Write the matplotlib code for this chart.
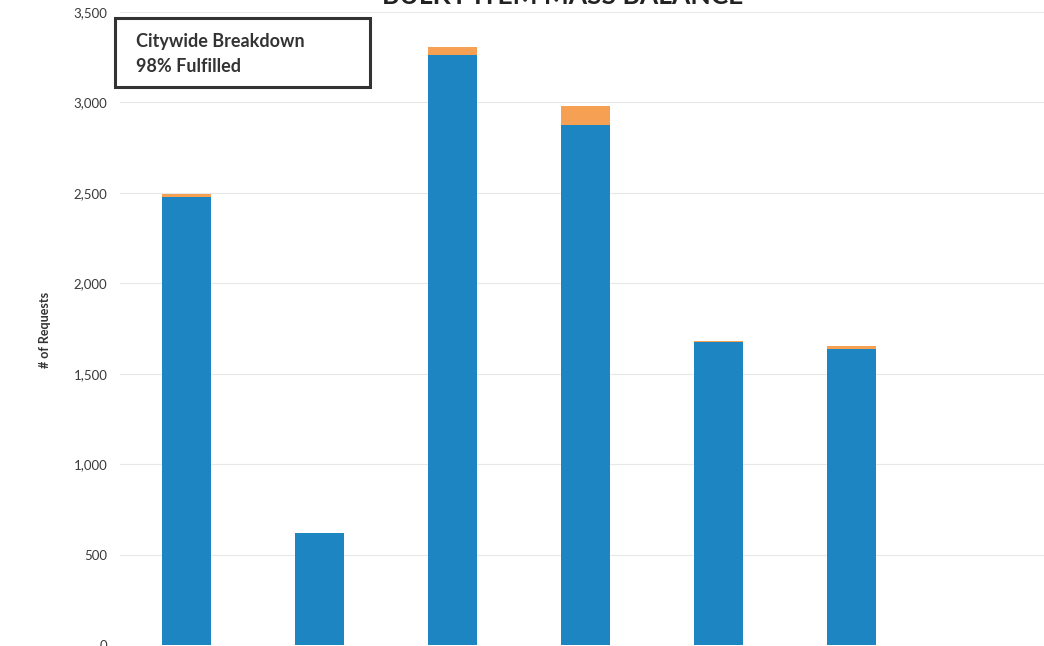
import matplotlib
matplotlib.use('Agg')
import matplotlib.pyplot as plt
from matplotlib.patches import Rectangle

plt.rcParams['font.family'] = ['Lato', 'DejaVu Sans']

# values (category names are cut off in the scan)
categories = ['A', 'B', 'C', 'D', 'E', 'F']
fulfilled = [2475, 619, 3260, 2873, 1674, 1635]
unfulfilled = [20, 3, 45, 105, 5, 20]
yticks = [0, 500, 1000, 1500, 2000, 2500, 3000, 3500]

blue = '#1c85c2'
orange = '#f5a052'

fig = plt.figure(figsize=(10.44, 6.46), dpi=100)
ax = fig.add_axes([120/1044, 1/646, 924/1044, 633/646])

x = range(len(categories))
ax.bar(x, fulfilled, width=0.37, color=blue, zorder=3)
ax.bar(x, unfulfilled, width=0.37, bottom=fulfilled, color=orange, zorder=3)

ax.set_xlim(-0.5, 6.45)
ax.set_ylim(0, 3500)
ax.set_yticks(yticks)
ax.set_yticklabels(['{:,}'.format(v) for v in yticks], fontsize=9.5, color='#3a3a3a')
ax.set_xticks([])
ax.tick_params(axis='y', length=0, pad=9)
ax.grid(axis='y', color='#e8e8e8', linewidth=0.8, zorder=0)
for s in ax.spines.values():
    s.set_visible(False)

fig.text(45/1044, 1 - 330/646, '# of Requests', rotation=90, fontsize=9,
         fontweight='bold', ha='center', va='center', color='#333333')

# title is half cut off at the top of the scan
fig.text(563/1044, 1.006, 'BULKY ITEM MASS BALANCE', fontsize=19, fontweight='bold',
         ha='center', va='center', color='#222222')

# annotation box
fig.patches.append(Rectangle((115/1044, 1 - 87/646), 255/1044, 69/646,
                             transform=fig.transFigure, fill=True, facecolor='white',
                             edgecolor='#333333', linewidth=2.2, zorder=5))
fig.text(136/1044, 1 - 41/646, 'Citywide Breakdown', fontsize=13, fontweight='bold',
         va='center', color='#333333', zorder=6)
fig.text(136/1044, 1 - 66/646, '98% Fulfilled', fontsize=13, fontweight='bold',
         va='center', color='#333333', zorder=6)

fig.savefig('out.png', dpi=100)
